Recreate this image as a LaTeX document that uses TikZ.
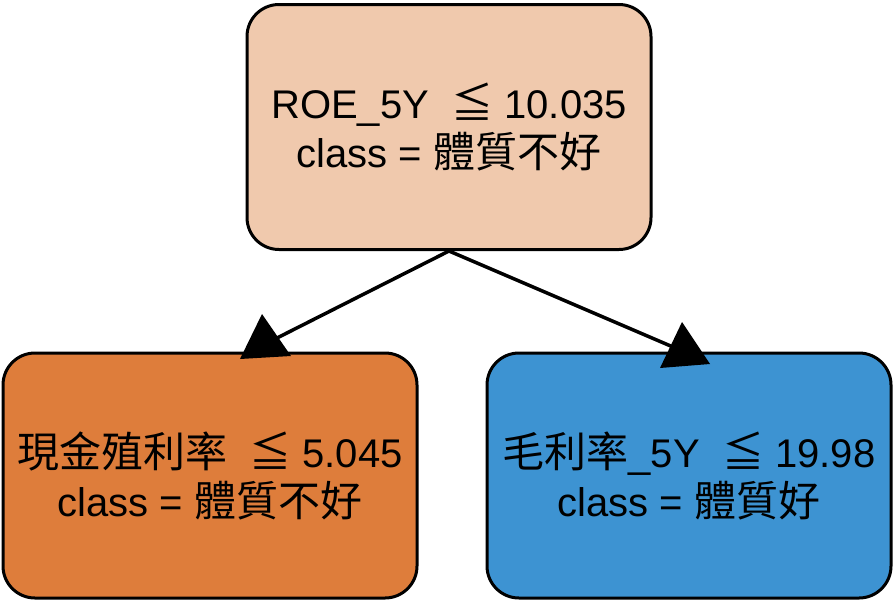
\documentclass[tikz,border=0pt]{standalone}
\usepackage{fontspec}
\setmainfont{Liberation Sans}
\newfontfamily\cjk[Scale=1.05]{Noto Sans CJK TC}
\definecolor{rootc}{HTML}{F0C9AD}
\definecolor{leftc}{HTML}{DE7D3B}
\definecolor{rightc}{HTML}{3D93D2}
\begin{document}
\begin{tikzpicture}[x=1pt,y=-1pt,
  treebox/.style={draw=black, line width=3pt, rounded corners=32pt, align=center,
    inner sep=0pt, font=\fontsize{40}{49}\selectfont},
  edgeline/.style={draw=black, line width=3.5pt},
  tipfill/.style={fill=black}]
\useasboundingbox (0,0) rectangle (894,603);
\node[treebox, fill=rootc, minimum width=404pt, minimum height=245pt] (root) at (449,127)
  {ROE\_5Y\ \ {\cjk ≦} 10.035\\class = {\cjk 體質不好}};
\node[treebox, fill=leftc, minimum width=414pt, minimum height=245pt] (left) at (210,475.5)
  {{\cjk 現金殖利率}\ \ {\cjk ≦} 5.045\\class = {\cjk 體質不好}};
\node[treebox, fill=rightc, minimum width=404pt, minimum height=245pt] (right) at (689,475.5)
  {{\cjk 毛利率}\_5Y\ \ {\cjk ≦} 19.98\\class = {\cjk 體質好}};
\coordinate (le) at (277,338);
\coordinate (re) at (673,347);
\draw[edgeline] (root.south) -- (le);
\draw[edgeline] (root.south) -- (re);
\fill[tipfill] (262,314) -- (240,359) -- (291,356) -- cycle;
\fill[tipfill] (682,322) -- (660,368) -- (710,364) -- cycle;
\end{tikzpicture}
\end{document}
